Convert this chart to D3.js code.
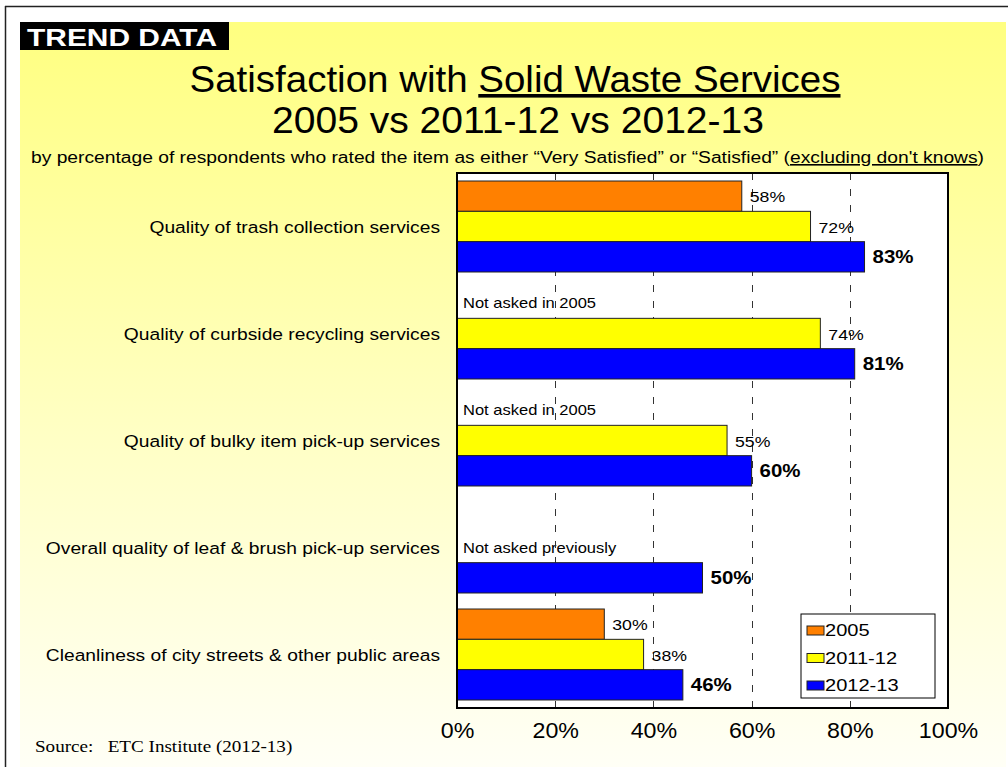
<!DOCTYPE html>
<html>
<head>
<meta charset="utf-8">
<script src="https://cdn.jsdelivr.net/npm/d3@7"></script>
<style>
  html, body { margin: 0; padding: 0; background: #ffffff; }
  svg { display: block; }
</style>
</head>
<body>
<svg id="chart" width="1008" height="767" font-family="'Liberation Sans', Arial, sans-serif"></svg>
<script>
// Survey items (top to bottom)
const categories = [
  "Quality of trash collection services",
  "Quality of curbside recycling services",
  "Quality of bulky item pick-up services",
  "Overall quality of leaf & brush pick-up services",
  "Cleanliness of city streets & other public areas"
];
// Percent satisfied by survey year (null = item not asked)
const series = ["2005", "2011-12", "2012-13"];
const values2005 = [58, null, null, null, 30];
const values2011 = [72, 74, 55, null, 38];
const values2013 = [83, 81, 60, 50, 46];
const notes = ["", "Not asked in 2005", "Not asked in 2005", "Not asked previously", ""];
const tickValues = [0, 20, 40, 60, 80, 100];
const seriesColors = ["#FF8000", "#FFFF00", "#0000FF"];

const allValues = [values2005, values2011, values2013];

// Small text is drawn horizontally widened
const WIDE = 1.18;
const wideAt = (px, py, k) => `translate(${px},${py}) scale(${k},1)`;

const svg = d3.select("#chart");

// Background gradient
const defs = svg.append("defs");
const grad = defs.append("linearGradient")
  .attr("id", "bg").attr("x1", 0).attr("y1", 0).attr("x2", 0).attr("y2", 1);
grad.append("stop").attr("offset", "0%").attr("stop-color", "#FFFF80");
grad.append("stop").attr("offset", "55%").attr("stop-color", "#FFFFC4");
grad.append("stop").attr("offset", "100%").attr("stop-color", "#FFFFF6");

svg.append("rect").attr("x", 20).attr("y", 22).attr("width", 986).attr("height", 745)
  .attr("fill", "url(#bg)");

// Outer frame lines
svg.append("line").attr("x1", 5).attr("x2", 1008).attr("y1", 6.5).attr("y2", 6.5)
  .attr("stroke", "#222").attr("stroke-width", 1.5);
svg.append("line").attr("x1", 5.5).attr("x2", 5.5).attr("y1", 6).attr("y2", 767)
  .attr("stroke", "#222").attr("stroke-width", 1.5);

// "TREND DATA" tag
svg.append("rect").attr("x", 20).attr("y", 22).attr("width", 209).attr("height", 28).attr("fill", "#000");
svg.append("text").attr("x", 27).attr("y", 46)
  .attr("fill", "#fff").attr("font-weight", "bold").attr("font-size", 24)
  .attr("textLength", 190).attr("lengthAdjust", "spacingAndGlyphs")
  .text("TREND DATA");

// Titles
const t1 = svg.append("text").attr("x", 515).attr("y", 92).attr("text-anchor", "middle")
  .attr("font-size", 36).attr("fill", "#000")
  .attr("textLength", 651).attr("lengthAdjust", "spacingAndGlyphs");
t1.append("tspan").text("Satisfaction with ");
t1.append("tspan").attr("text-decoration", "underline").text("Solid Waste Services");

svg.append("text").attr("x", 518).attr("y", 133).attr("text-anchor", "middle")
  .attr("font-size", 36).attr("fill", "#000")
  .attr("textLength", 492).attr("lengthAdjust", "spacingAndGlyphs")
  .text("2005 vs 2011-12 vs 2012-13");

const st = svg.append("text").attr("x", 31).attr("y", 163)
  .attr("font-size", 16).attr("fill", "#000")
  .attr("textLength", 953).attr("lengthAdjust", "spacingAndGlyphs");
st.append("tspan").text("by percentage of respondents who rated the item as either \u201CVery Satisfied\u201D or \u201CSatisfied\u201D (");
st.append("tspan").attr("text-decoration", "underline").text("excluding don't knows");
st.append("tspan").text(")");

// Plot area
const plot = { left: 457, right: 948, top: 173, bottom: 708 };

const x = d3.scaleLinear().domain([0, 100]).range([plot.left, plot.right]);
const y = d3.scaleBand().domain(categories).range([plot.top, plot.bottom]).padding(0);
const ySeries = d3.scaleBand().domain(series).range([0, y.bandwidth()])
  .paddingInner(0).paddingOuter(0.264);

svg.append("rect").attr("x", plot.left).attr("y", plot.top)
  .attr("width", plot.right - plot.left).attr("height", plot.bottom - plot.top)
  .attr("fill", "#fff");

// Category labels
svg.append("g").selectAll("text").data(categories).join("text")
  .attr("transform", d => wideAt(440, y(d) + y.bandwidth() / 2 + 6, WIDE))
  .attr("text-anchor", "end").attr("font-size", 16.3).attr("fill", "#000")
  .text(d => d);

// Notes for items not asked in earlier years (placed in the last empty slot)
svg.append("g").selectAll("text").data(categories).join("text")
  .attr("transform", (d, i) => {
    let slot = 0;
    allValues.forEach((arr, s) => { if (arr[i] === null) slot = s; });
    return wideAt(plot.left + 6, y(d) + ySeries(series[slot]) + ySeries.bandwidth() / 2 + 5, WIDE);
  })
  .attr("font-size", 14).attr("fill", "#000")
  .text((d, i) => notes[i]);

// Dashed gridlines
svg.append("g").selectAll("line").data(tickValues.filter(v => v > 0 && v < 100)).join("line")
  .attr("x1", d => Math.round(x(d)) + 0.5).attr("x2", d => Math.round(x(d)) + 0.5)
  .attr("y1", plot.top).attr("y2", plot.bottom)
  .attr("stroke", "#333").attr("stroke-width", 1).attr("stroke-dasharray", "7,9");

// Bars and value labels
const barData = [];
categories.forEach((c, i) => {
  series.forEach((s, si) => {
    const v = allValues[si][i];
    if (v !== null) barData.push({ cat: c, series: s, si, value: v });
  });
});

const bars = svg.append("g");
bars.selectAll("rect").data(barData).join("rect")
  .attr("x", x(0))
  .attr("y", d => y(d.cat) + ySeries(d.series))
  .attr("width", d => x(d.value) - x(0))
  .attr("height", ySeries.bandwidth())
  .attr("fill", d => seriesColors[d.si])
  .attr("stroke", "#222").attr("stroke-width", 1);

bars.selectAll("text").data(barData).join("text")
  .attr("transform", d => wideAt(x(d.value) + 8,
    y(d.cat) + ySeries(d.series) + ySeries.bandwidth() / 2 + 6,
    d.si === 2 ? 1.17 : 1.14))
  .attr("font-size", d => d.si === 2 ? 17.5 : 15.5)
  .attr("font-weight", d => d.si === 2 ? "bold" : "normal")
  .attr("fill", "#000")
  .text(d => d.value + "%");

// Plot border
svg.append("rect").attr("x", plot.left).attr("y", plot.top)
  .attr("width", plot.right - plot.left).attr("height", plot.bottom - plot.top)
  .attr("fill", "none").attr("stroke", "#000").attr("stroke-width", 2);

// X axis tick labels
const xAxis = d3.axisBottom(x).tickValues(tickValues).tickSize(0).tickPadding(0)
  .tickFormat(d => d + "%");
const gx = svg.append("g").attr("transform", `translate(0, ${plot.bottom + 15})`).call(xAxis);
gx.select(".domain").remove();
gx.selectAll("text").attr("font-size", 21.5).attr("fill", "#000")
  .attr("font-family", "'Liberation Sans', Arial, sans-serif")
  .attr("transform", "scale(1.08,1)");

// Legend
const lg = svg.append("g").attr("transform", "translate(801, 614)");
lg.append("rect").attr("x", 0).attr("y", 0).attr("width", 134).attr("height", 84)
  .attr("fill", "#fff").attr("stroke", "#000").attr("stroke-width", 1);
series.forEach((s, i) => {
  lg.append("rect").attr("x", 6).attr("y", 12 + i * 27.5).attr("width", 17).attr("height", 9)
    .attr("fill", seriesColors[i]).attr("stroke", "#222").attr("stroke-width", 1);
  lg.append("text").attr("transform", wideAt(24, 22 + i * 27.5, WIDE))
    .attr("font-size", 17).attr("fill", "#000").text(s);
});

// Source note
svg.append("text").attr("transform", wideAt(35, 752, WIDE))
  .attr("font-family", "'Liberation Serif', 'Times New Roman', serif")
  .attr("font-size", 16.2).attr("fill", "#000")
  .attr("xml:space", "preserve")
  .text("Source:   ETC Institute (2012-13)");
</script>
</body>
</html>
